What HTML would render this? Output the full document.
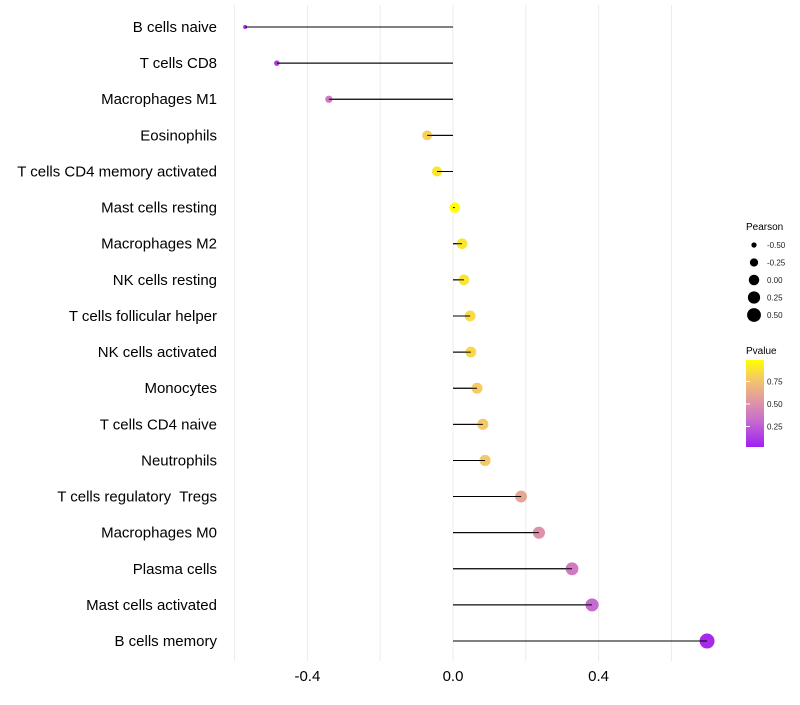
<!DOCTYPE html>
<html><head><meta charset="utf-8"><style>
body{margin:0;background:#fff;}
svg{font-family:"Liberation Sans",sans-serif;}
text{white-space:pre;}
</style></head><body>
<svg id="chart" width="800" height="700">
<g id="grid"></g>
<g id="marks"></g>
<g id="ylabels"></g>
<g id="xlabels"></g>
<g id="legend">
<defs><linearGradient id="pg" x1="0" y1="1" x2="0" y2="0">
<stop offset="0" stop-color="#a020f0"/><stop offset="0.3" stop-color="#c66bd0"/><stop offset="0.55" stop-color="#e39ba0"/><stop offset="0.8" stop-color="#f5cb62"/><stop offset="1" stop-color="#ffff00"/></linearGradient></defs>
<text x="746" y="230" font-size="10" fill="#000">Pearson</text>
<text x="746" y="354" font-size="10" fill="#000">Pvalue</text>
<rect x="746" y="360" width="18" height="87" fill="url(#pg)"/>
</g>
</svg>
<script>
const categories=["B cells naive","T cells CD8","Macrophages M1","Eosinophils","T cells CD4 memory activated","Mast cells resting","Macrophages M2","NK cells resting","T cells follicular helper","NK cells activated","Monocytes","T cells CD4 naive","Neutrophils","T cells regulatory  Tregs","Macrophages M0","Plasma cells","Mast cells activated","B cells memory"];
const pearson=[-0.571,-0.484,-0.341,-0.071,-0.044,0.005,0.025,0.030,0.047,0.049,0.066,0.082,0.088,0.187,0.236,0.327,0.382,0.698];
const pvalue=[0.05,0.12,0.38,0.82,0.9,1.0,0.9,0.9,0.86,0.85,0.8,0.78,0.78,0.6,0.5,0.38,0.3,0.04];
const xTicks=[-0.4,0.0,0.4];
const xTickLabels=["-0.4","0.0","0.4"];
const minorTicks=[-0.6,-0.2,0.2,0.6];
const sizeLegendValues=[-0.5,-0.25,0,0.25,0.5];
const sizeLegendLabels=["-0.50","-0.25","0.00","0.25","0.50"];
const pTicks=[0.25,0.5,0.75];
const pTickLabels=["0.25","0.50","0.75"];

const NS="http://www.w3.org/2000/svg";
const x=v=>453+(v)*364;
const y=i=>27+i*36.12;
const r=v=>Math.sqrt(Math.max(1,27.4+41*v));
const pY=p=>449-p*90;
const stops=[[0,[160,32,240]],[0.3,[198,107,208]],[0.55,[227,155,160]],[0.8,[245,203,98]],[1,[255,255,0]]];
function col(p){for(let k=1;k<stops.length;k++){if(p<=stops[k][0]){const a=stops[k-1],b=stops[k];const t=(p-a[0])/(b[0]-a[0]);const c=a[1].map((v,j)=>Math.round(v+(b[1][j]-v)*t));return `rgb(${c})`;}}return "rgb(255,255,0)";}
function mk(tag,attrs,parent){const e=document.createElementNS(NS,tag);for(const k in attrs)e.setAttribute(k,attrs[k]);parent.appendChild(e);return e;}
const grid=document.getElementById('grid'),marks=document.getElementById('marks'),yl=document.getElementById('ylabels'),xl=document.getElementById('xlabels'),lg=document.getElementById('legend');
minorTicks.concat(xTicks).forEach(v=>{const l=mk('line',{x1:x(v),x2:x(v),y1:5,y2:661,stroke:'#ebebeb','stroke-width':1},grid);

});
xTicks.forEach((v,i)=>{const t=mk('text',{x:x(v),y:681,'font-size':15,'text-anchor':'middle',fill:'#000'},xl);t.textContent=xTickLabels[i];

});
categories.forEach((c,i)=>{
const t=mk('text',{x:217,y:y(i)+5,'font-size':15,'text-anchor':'end',fill:'#000'},yl);t.textContent=c;


const l=mk('line',{x1:x(0),x2:x(pearson[i]),y1:y(i),y2:y(i),stroke:'#000','stroke-width':1},marks);


const d=mk('circle',{cx:x(pearson[i]),cy:y(i),r:r(pearson[i]),fill:col(pvalue[i])},marks);


const s=mk('line',{x1:x(0),x2:x(pearson[i]),y1:y(i),y2:y(i),stroke:'#000','stroke-width':1},marks);


});
sizeLegendValues.forEach((v,i)=>{const cy=245+i*17.5;
const d=mk('circle',{cx:754,cy:cy,r:r(v),fill:'#000'},lg);


const t=mk('text',{x:767,y:cy+3,'font-size':8,fill:'#1a1a1a'},lg);t.textContent=sizeLegendLabels[i];

});
pTicks.forEach((p,i)=>{
const a=mk('line',{x1:746,x2:750,y1:pY(p),y2:pY(p),stroke:'#fff'},lg);


const t=mk('text',{x:767,y:pY(p)+3,'font-size':8,fill:'#1a1a1a'},lg);t.textContent=pTickLabels[i];

});
</script>
</body></html>
